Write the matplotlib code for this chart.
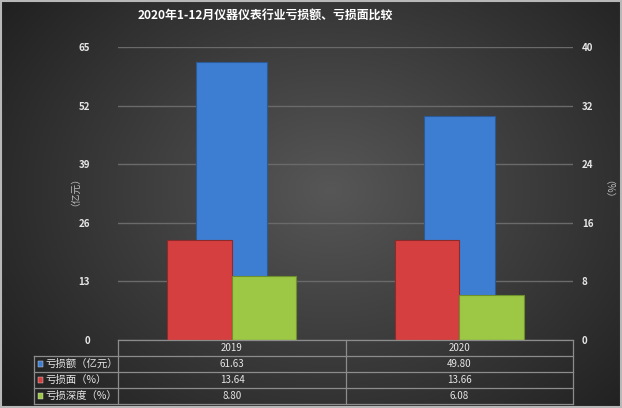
import numpy as np
import matplotlib
matplotlib.use('Agg')
import matplotlib.pyplot as plt
from matplotlib.patches import Rectangle

plt.rcParams['font.family'] = ['Noto Sans CJK SC', 'DejaVu Sans']

# data
title = '2020年1-12月仪器仪表行业亏损额、亏损面比较'
years = ['2019', '2020']
loss_amount = [61.63, 49.80]     # 亿元, left axis
loss_ratio = [13.64, 13.66]      # %, right axis
loss_depth = [8.80, 6.08]        # %, right axis
series_names = ['亏损额（亿元）', '亏损面（%）', '亏损深度（%）']
left_ticks = [0, 13, 26, 39, 52, 65]
right_ticks = [0, 8, 16, 24, 32, 40]

W, H = 622, 408
fig = plt.figure(figsize=(W / 100, H / 100), dpi=100)
PT = 72 / 100  # points per pixel

# radial background
bg = fig.add_axes([0, 0, 1, 1])
yy, xx = np.mgrid[0:H, 0:W]
d = np.sqrt(((xx - 330) / 420.0) ** 2 + ((yy - 190) / 330.0) ** 2)
v = np.clip(0.34 - 0.22 * d, 0.11, 0.34)
img = np.dstack([v, v, v])
bg.imshow(img, extent=[0, W, H, 0], aspect='auto')
bg.set_xlim(0, W)
bg.set_ylim(H, 0)
bg.axis('off')
bg.add_patch(Rectangle((0.5, 0.5), W - 1.5, H - 1.5, fill=False, ec='#b8b8b8', lw=1.5))

txt = '#e6e6e6'
grid = '#6a6a6a'

def fx(px):
    return px / W

def fy(py):
    return 1 - py / H

left, right, top, bottom = 118, 573, 47, 340
ax = fig.add_axes([fx(left), fy(bottom), fx(right) - fx(left), (bottom - top) / H])
ax.set_facecolor('none')
ax2 = ax.twinx()

x = np.arange(len(years))
ax.bar(x, loss_amount, width=0.31, color='#3d7dd2', edgecolor='#2c5a96', lw=0.8, zorder=3)
bw = 0.284
ax2.bar(x - bw / 2, loss_ratio, width=bw, color='#d63f3f', edgecolor='#8e2a2a', lw=0.8, zorder=3)
ax2.bar(x + bw / 2, loss_depth, width=bw, color='#9cc845', edgecolor='#6d8f2c', lw=0.8, zorder=3)

ax.set_xlim(-0.5, 1.5)
ax.set_ylim(0, 65)
ax2.set_ylim(0, 40)
ax.set_yticks(left_ticks)
ax2.set_yticks(right_ticks)
ax.set_xticks([])
ax.yaxis.grid(True, color=grid, lw=1)
ax.set_axisbelow(True)
for a in (ax, ax2):
    for s in a.spines.values():
        s.set_visible(False)
ax.tick_params(axis='y', length=0, pad=28 * PT, labelsize=7, labelcolor=txt)
ax2.tick_params(axis='y', length=0, pad=9 * PT, labelsize=7, labelcolor=txt)
for lab in ax.get_yticklabels() + ax2.get_yticklabels():
    lab.set_fontweight('bold')

fig.text(fx(70), fy(187), '（亿元）', rotation=90, ha='center', va='center', color='#bfbfbf', fontsize=7)
fig.text(fx(603), fy(194), '（%）', rotation=270, ha='center', va='center', color='#bfbfbf', fontsize=7)
fig.text(fx(265), fy(15), title, ha='center', va='center', color='white', fontsize=8.6, fontweight='bold')

# data table
tb = fig.add_axes([0, 0, 1, 1])
tb.set_xlim(0, W)
tb.set_ylim(H, 0)
tb.axis('off')
lc = '#8c8c8c'
rows_y = [340, 356, 372, 388, 404]
col_x = [34, 118, 346, 573]
tb.plot([118, 573], [340, 340], color=lc, lw=0.9)
for yv in rows_y[1:]:
    tb.plot([34, 573], [yv, yv], color=lc, lw=0.9)
tb.plot([34, 34], [356, 404], color=lc, lw=0.9)
for xv in col_x[1:]:
    tb.plot([xv, xv], [340, 404], color=lc, lw=0.9)

centers = [(col_x[i] + col_x[i + 1]) / 2 for i in range(1, 3)]
for c, yr in zip(centers, years):
    tb.text(c, 348, yr, ha='center', va='center', color=txt, fontsize=7)
colors = ['#3d7dd2', '#d63f3f', '#9cc845']
values = [loss_amount, loss_ratio, loss_depth]
for i, (name, col, vals) in enumerate(zip(series_names, colors, values)):
    yc = (rows_y[i + 1] + rows_y[i + 2]) / 2
    tb.add_patch(Rectangle((37.5, yc - 2.8), 5.6, 5.6, color=col, ec='#dddddd', lw=0.3))
    tb.text(45, yc, name, ha='left', va='center', color=txt, fontsize=7.5)
    for c, vv in zip(centers, vals):
        tb.text(c, yc, f'{vv:.2f}', ha='center', va='center', color=txt, fontsize=7)

fig.savefig('out.png', dpi=100)
